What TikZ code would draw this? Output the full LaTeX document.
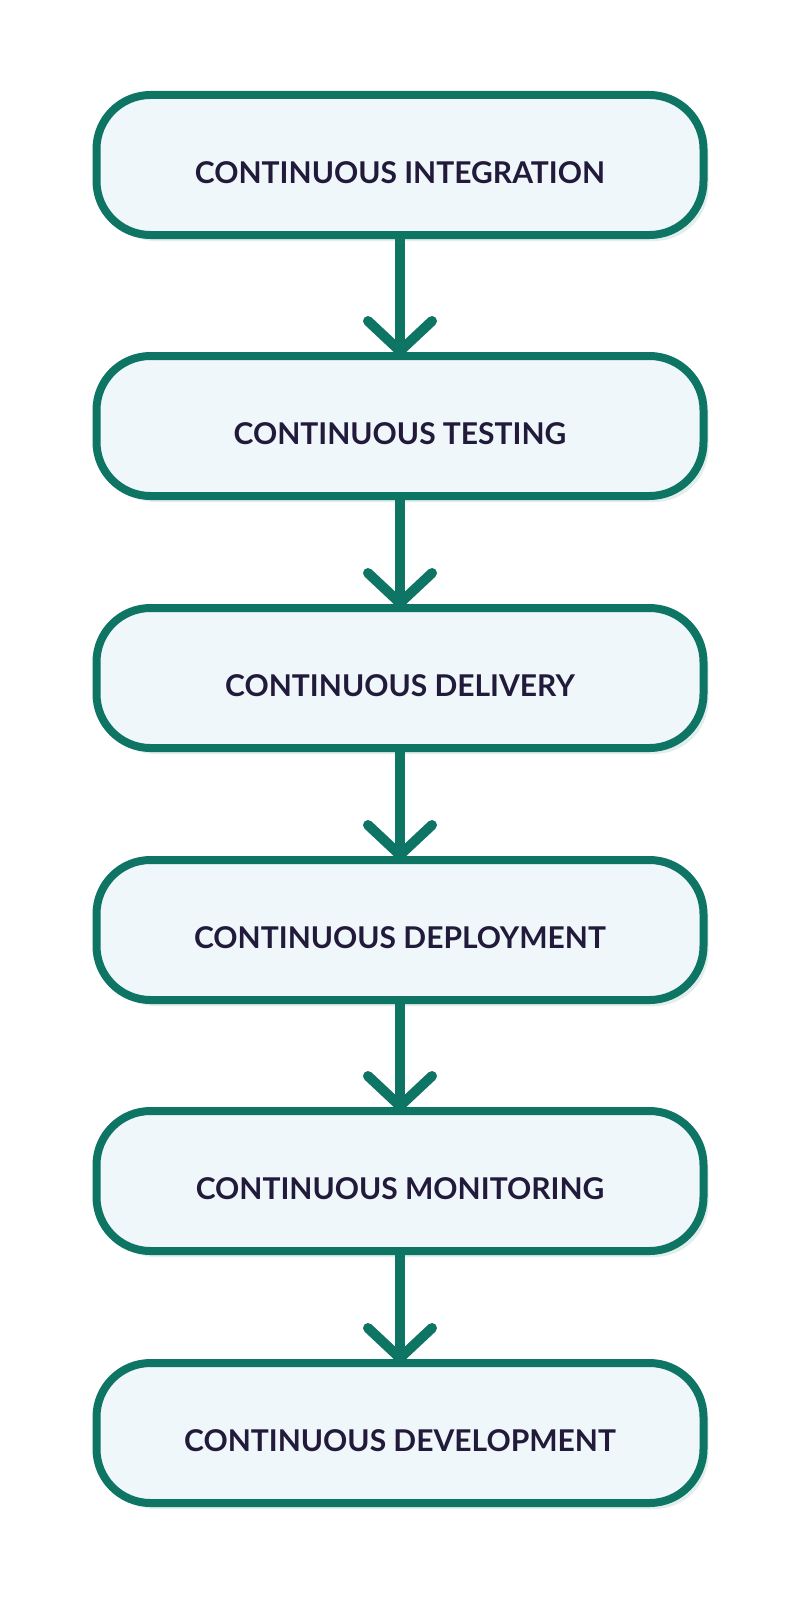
\documentclass[tikz,border=0pt]{standalone}
\usepackage{fontspec}
\setmainfont{Lato}
\usepackage{tikz}
\usetikzlibrary{arrows.meta,shadows}
\definecolor{stageline}{HTML}{0E7463}
\definecolor{stagefill}{HTML}{EFF7FA}
\definecolor{stagetext}{HTML}{221A3B}

\begin{document}
\begin{tikzpicture}[x=0.5pt,y=-0.5pt,
                    stage node/.style={rectangle,rounded corners=27pt,draw=stageline,line width=4pt,fill=stagefill,
                    minimum width=303.5pt,minimum height=70pt,text height=18.5pt,text depth=0pt,
                    font=\bfseries\fontsize{15}{18}\selectfont,text=stagetext,
                    drop shadow={shadow xshift=2.5pt,shadow yshift=-3pt,opacity=0.35,fill=stageline!35}},
                    flow arrow/.style={draw=stageline,line width=5pt,shorten >=-2pt,-{Straight Barb[length=15pt,width=32pt,round]}}]
\useasboundingbox (0,0) rectangle (800,1600);

%Stages
 \foreach \y/\pos/\name in {1/165/CONTINUOUS INTEGRATION,2/426/CONTINUOUS TESTING,3/678/CONTINUOUS DELIVERY,
                             4/930/CONTINUOUS DEPLOYMENT,5/1181/CONTINUOUS MONITORING,6/1433/CONTINUOUS DEVELOPMENT}
   \node[stage node] (Stage\y) at (400,\pos) {\name\hspace{4pt}};

%Arrows between stages
 \foreach \y in {1,...,5}
   {\pgfmathtruncatemacro{\za}{\y+1}
    \draw[flow arrow] (Stage\y) -- (Stage\za);}

\end{tikzpicture}
\end{document}
